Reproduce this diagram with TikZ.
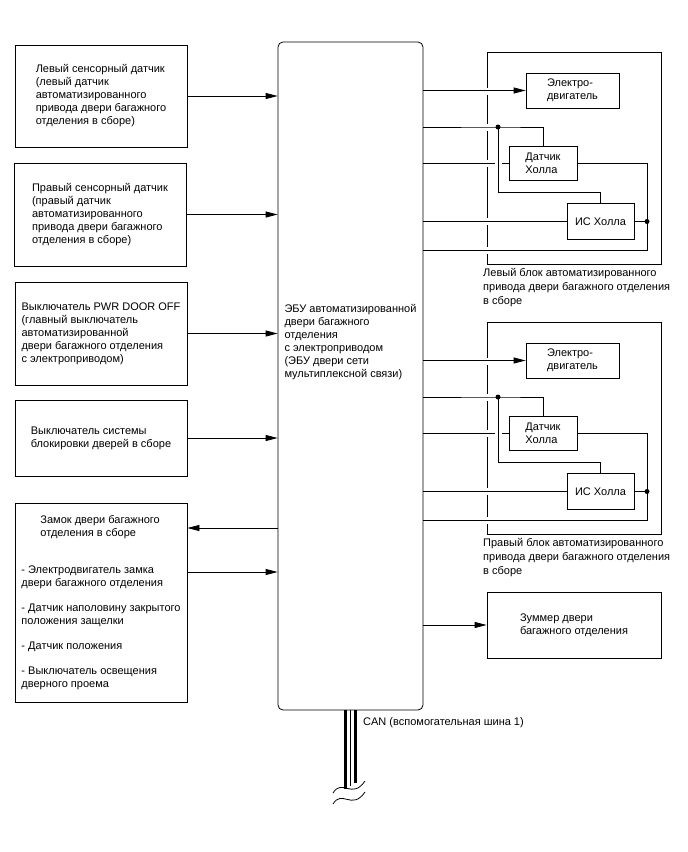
\documentclass[tikz,border=0pt]{standalone}
\usepackage{fontspec}
\setmainfont{Liberation Sans}
\usetikzlibrary{arrows.meta, positioning, calc}

\begin{document}
\begin{tikzpicture}[
  x=1pt, y=-1pt,
  every node/.style={font=\fontsize{11}{13}\selectfont},
  lbox/.style={draw, line width=0.8pt, minimum width=172pt, align=left, inner sep=0pt},
  sbox/.style={draw, line width=0.8pt, align=left, inner sep=0pt},
  wire/.style={line width=0.8pt},
  sig/.style={wire, -{Triangle[length=12pt, width=6pt]}},
  jdot/.style={circle, fill, inner sep=0pt, minimum size=5pt},
  blklabel/.style={align=left, anchor=north west, inner sep=0pt, font=\fontsize{11}{14}\selectfont}
]
  \useasboundingbox (0,0) rectangle (688,852);

  % left inputs
  \node[lbox, minimum height=102pt] (lsens) at (101,96) {Левый сенсорный датчик\\(левый датчик\\автоматизированного\\привода двери багажного\\отделения в сборе)};
  \node[lbox, minimum height=103pt] (rsens) at (100,214.5) {Правый сенсорный датчик\\(правый датчик\\автоматизированного\\привода двери багажного\\отделения в сборе)};
  \node[lbox, minimum height=103pt] (pwrsw) at (101,333.5) {Выключатель PWR DOOR OFF\\(главный выключатель\\автоматизированной\\двери багажного отделения\\с электроприводом)};
  \node[lbox, minimum height=76pt] (locksw) at (101,438) {Выключатель системы\\блокировки дверей в сборе};
  \node[lbox, minimum height=199pt] (lock) at (101,602.5) {\hspace*{19pt}Замок двери багажного\\
    \hspace*{19pt}отделения в сборе\\[24pt]
    - Электродвигатель замка\\двери багажного отделения\\[12pt]
    - Датчик наполовину закрытого\\положения защелки\\[12pt]
    - Датчик положения\\[12pt]
    - Выключатель освещения\\дверного проема};

  % ECU
  \node[draw, line width=0.8pt, rounded corners=5pt, minimum width=145pt, minimum height=668pt, inner sep=0pt] (ecu) at (350.5,376) {};
  \node[align=left, inner sep=0pt] (ecutxt) at (350.5,342) {ЭБУ автоматизированной\\двери багажного\\отделения\\с электроприводом\\(ЭБУ двери сети\\мультиплексной связи)};

  \draw[sig] (lsens.east) -- (lsens.east -| ecu.west);
  \draw[sig] (rsens.east) -- (rsens.east -| ecu.west);
  \draw[sig] (pwrsw.east) -- (pwrsw.east -| ecu.west);
  \draw[sig] (locksw.east) -- (locksw.east -| ecu.west);
  \coordinate (lockout) at ([yshift=74.5pt]lock.east);
  \coordinate (lockin) at ([yshift=30.5pt]lock.east);
  \draw[sig] (lockout -| ecu.west) -- (lockout);
  \draw[sig] (lockin) -- (lockin -| ecu.west);

  % door actuator units
  \foreach \s/\dy/\side in {l/0/Левый, r/270/Правый} {
    \node[draw, line width=0.8pt, minimum width=174pt, minimum height=212pt, inner sep=0pt] (unit\s) at (574,158+\dy) {};
    \foreach \y in {91,127,163,221.5,250}
      \fill[white] (484,\y+\dy-3.5) rectangle ++(6,7);
    \node[sbox, minimum width=93pt, minimum height=35pt] (mot\s) at (572.5,90.5+\dy) {Электро-\\двигатель};
    \node[sbox, minimum width=68pt, minimum height=34pt] (hall\s) at (543,163+\dy) {Датчик\\Холла};
    \node[sbox, minimum width=67pt, minimum height=36pt] (hic\s) at (600.5,221.5+\dy) {ИС Холла};
    \node[blklabel] (unitlbl\s) at (483,268+\dy) {\side{} блок автоматизированного\\привода двери багажного отделения\\в сборе};
    \coordinate (ja\s) at (498,127+\dy);
    \coordinate (jb\s) at (647,221.5+\dy);
    \coordinate (jc\s) at (647,250+\dy);
    \draw[sig] (ecu.east |- mot\s.west) -- (mot\s.west);
    \draw[wire] (ecu.east |- ja\s) -- (ja\s) -| (hall\s.north);
    \draw[wire] (ecu.east |- hall\s.west) -- (hall\s.west);
    \draw[wire] (ecu.east |- hic\s.west) -- (hic\s.west);
    \draw[wire] (ecu.east |- jc\s) -- (jc\s) -- (jb\s);
    \draw[wire] (hic\s.east) -- (jb\s);
    \draw[wire] (hall\s.east) -| (jb\s);
    \fill[white] ($(ja\s |- hall\s.west)+(-3.5,-1.5)$) rectangle ++(7,3);
    \draw[wire] (ja\s) -- ++(0,65) -| (hic\s.north);
    \node[jdot] (jda\s) at (ja\s) {};
    \node[jdot] (jdb\s) at (jb\s) {};
  }

  % buzzer
  \node[lbox, minimum width=174pt, minimum height=66pt] (buzz) at (574,625) {Зуммер двери\\багажного отделения};
  \draw[sig] (ecu.east |- buzz.west) -- (buzz.west);

  % CAN
  \draw[line width=2.5pt] ([xshift=-5pt]ecu.south) -- ++(0,79);
  \draw[line width=0.8pt] (ecu.south) -- ++(0,76);
  \draw[line width=2.5pt] ([xshift=5pt]ecu.south) -- ++(0,73);
  \draw[wire] (333,793) .. controls (342,778) and (352,800) .. (365,781);
  \draw[wire] (333,804) .. controls (342,789) and (352,811) .. (365,792);
  \node[blklabel] (canlbl) at (363,717) {CAN (вспомогательная шина 1)};
\end{tikzpicture}
\end{document}
